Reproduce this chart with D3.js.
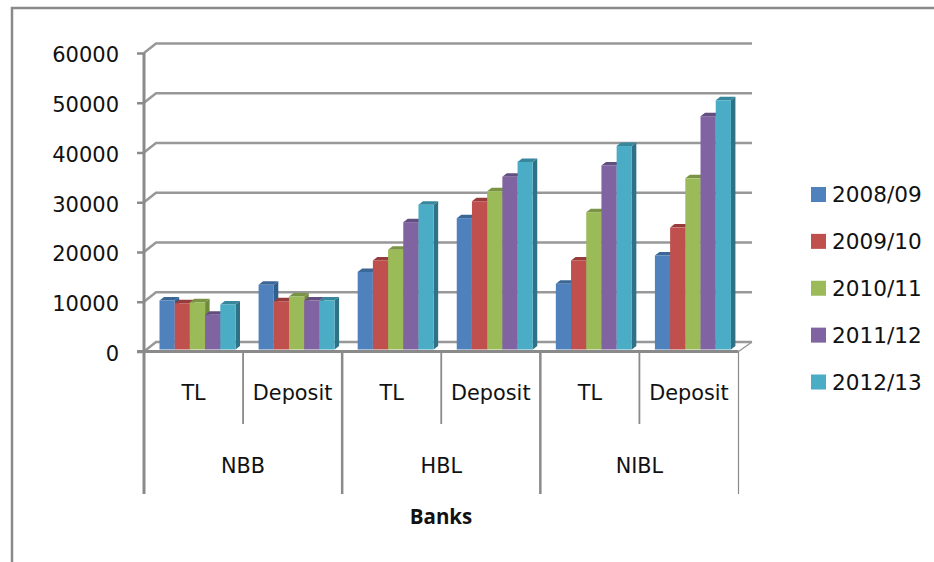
<!DOCTYPE html>
<html>
<head>
<meta charset="utf-8">
<script src="https://cdn.jsdelivr.net/npm/d3@7"></script>
<style>
  html, body { margin: 0; padding: 0; background: #fff; }
  svg { display: block; }
  text { font-family: "DejaVu Sans", sans-serif; fill: #111; }
</style>
</head>
<body>
<svg id="chart"></svg>
<script>
const width = 934;
const height = 562;

const banks = ["NBB", "HBL", "NIBL"];
const measures = ["TL", "Deposit"];
const years = ["2008/09", "2009/10", "2010/11", "2011/12", "2012/13"];
const colors = ["#4f81bd", "#c0504d", "#9bbb59", "#8064a2", "#4bacc6"];
const sideColors = ["#2f5f8f", "#8c3836", "#6f8a3c", "#5a4676", "#2f7185"];
const topColors = ["#3b6796", "#963d3b", "#7a9446", "#634e80", "#37879c"];

// one value per bank/measure slot, in order NBB TL, NBB Deposit, HBL TL ...
const y2008 = [9850, 13000, 15600, 26400, 13200, 18900];
const y2009 = [9300, 9700, 17900, 29800, 17900, 24500];
const y2010 = [9500, 10650, 20050, 31800, 27600, 34400];
const y2011 = [7000, 9850, 25600, 34700, 37000, 46900];
const y2012 = [9050, 9850, 29100, 37700, 40900, 50100];
const seriesValues = [y2008, y2009, y2010, y2011, y2012];
const yTicks = [0, 10000, 20000, 30000, 40000, 50000, 60000];

const slots = banks.flatMap(b => measures.map(m => b + "|" + m));

const svg = d3.select("#chart").attr("width", width).attr("height", height);

const lineColor = "#8a8a8a";
const gridColor = "#989898";
const depthX = 12, depthY = 9.5;     // wall offset of the fake 3d box
const barDepthX = 4.5, barDepthY = 3.5;

const y = d3.scaleLinear().domain([0, 60000]).range([351.5, 53]);
const x = d3.scaleBand().domain(slots).range([144, 738.5]);
const xBank = d3.scaleBand().domain(banks).range([144, 738.5]);
const xSeries = d3.scaleBand().domain(years).range([15.5, 91.5]);

// frame round the picture, right and bottom sides are cut off
svg.append("path")
    .attr("d", "M12,562V8H934")
    .attr("fill", "none")
    .attr("stroke", lineColor)
    .attr("stroke-width", 2.5);

// --- back wall ---
const wall = svg.append("g");
wall.selectAll(".grid")
    .data(yTicks)
    .join("path")
    .attr("class", "grid")
    .attr("d", d => {
        const p = d3.path();
        p.moveTo(x.range()[0], y(d));
        p.lineTo(x.range()[0] + depthX, y(d) - depthY);
        p.lineTo(x.range()[1] + depthX + 1.5, y(d) - depthY);
        return p.toString();
    })
    .attr("fill", "none")
    .attr("stroke", gridColor)
    .attr("stroke-width", 2.5);

wall.append("path")
    .attr("d", `M${x.range()[1]},${y(0)}L${x.range()[1] + depthX + 1.5},${y(0) - depthY}`)
    .attr("fill", "none")
    .attr("stroke", gridColor)
    .attr("stroke-width", 1.5);

// --- y axis ---
const yAxis = svg.append("g")
    .attr("transform", `translate(${x.range()[0]},0)`)
    .call(d3.axisLeft(y).tickValues(yTicks).tickFormat(d3.format("d")).tickSize(7).tickPadding(18));
yAxis.select(".domain").remove();
yAxis.selectAll("line").attr("stroke", lineColor).attr("stroke-width", 2.5);
yAxis.selectAll("text")
    .attr("dy", "0.42em")
    .style("font-size", "21px")
    .style("font-family", "DejaVu Sans");

// --- category axis, two levels ---
const axisColor = svg.append("g").attr("stroke", lineColor).attr("fill", "none");
axisColor.append("line")
    .attr("x1", x.range()[0] - 7).attr("x2", x.range()[1])
    .attr("y1", y(0)).attr("y2", y(0))
    .attr("stroke-width", 3);
axisColor.append("line")
    .attr("x1", x.range()[0]).attr("x2", x.range()[0])
    .attr("y1", y(60000)).attr("y2", 494)
    .attr("stroke-width", 3);

axisColor.selectAll(".inner")
    .data(slots.filter((d, i) => i % 2 === 1))
    .join("line")
    .attr("class", "inner")
    .attr("x1", d => x(d))
    .attr("x2", d => x(d))
    .attr("y1", y(0)).attr("y2", 424)
    .attr("stroke-width", 1.8);

axisColor.selectAll(".outer")
    .data(banks)
    .join("line")
    .attr("class", "outer")
    .attr("x1", d => xBank(d) + xBank.bandwidth())
    .attr("x2", d => xBank(d) + xBank.bandwidth())
    .attr("y1", y(0)).attr("y2", 494)
    .attr("stroke-width", d => d === "NIBL" ? 1.2 : 2.5);

svg.append("g").selectAll("text")
    .data(slots)
    .join("text")
    .attr("x", d => x(d) + x.bandwidth() / 2)
    .attr("y", 400)
    .attr("text-anchor", "middle")
    .attr("font-size", 20.8)
    .text(d => d.split("|")[1]);

svg.append("g").selectAll("text")
    .data(banks)
    .join("text")
    .attr("x", d => xBank(d) + xBank.bandwidth() / 2)
    .attr("y", 473)
    .attr("text-anchor", "middle")
    .attr("font-size", 20.8)
    .text(d => d);

svg.append("text")
    .attr("x", 441)
    .attr("y", 524)
    .attr("text-anchor", "middle")
    .style("font-family", "Open Sans")
    .attr("font-weight", 700)
    .attr("font-size", 20.5)
    .text("Banks");

// --- bars, left to right so each one covers the side of the one before ---
const barBase = y(0) - 2;
const barY = v => barBase - (y(0) - y(v));

slots.forEach((slot, s) => {
    const g = svg.append("g");
    years.forEach((year, i) => {
        const v = seriesValues[i][s];
        const x0 = x(slot) + xSeries(year);
        const x1 = x0 + xSeries.bandwidth();
        const top = barY(v);

        const side = d3.path();
        side.moveTo(x1, top);
        side.lineTo(x1 + barDepthX, top - barDepthY);
        side.lineTo(x1 + barDepthX, barBase - barDepthY);
        side.lineTo(x1, barBase);
        side.closePath();
        g.append("path").attr("d", side.toString()).attr("fill", sideColors[i]);

        const lid = d3.path();
        lid.moveTo(x0, top);
        lid.lineTo(x0 + barDepthX, top - barDepthY);
        lid.lineTo(x1 + barDepthX, top - barDepthY);
        lid.lineTo(x1, top);
        lid.closePath();
        g.append("path").attr("d", lid.toString()).attr("fill", topColors[i]);

        g.append("rect")
            .attr("x", x0)
            .attr("y", top)
            .attr("width", xSeries.bandwidth())
            .attr("height", barBase - top)
            .attr("fill", colors[i]);
    });
});

// --- legend ---
const legendY = d3.scalePoint().domain(years).range([194.5, 382]);
const legend = svg.append("g").selectAll("g")
    .data(years)
    .join("g")
    .attr("transform", d => `translate(811,${legendY(d)})`);
legend.append("rect")
    .attr("x", 0).attr("y", -7.5)
    .attr("width", 15).attr("height", 15)
    .attr("fill", (d, i) => colors[i]);
legend.append("text")
    .attr("x", 21).attr("y", 7.5)
    .attr("font-size", 21.6)
    .text(d => d);
</script>
</body>
</html>
